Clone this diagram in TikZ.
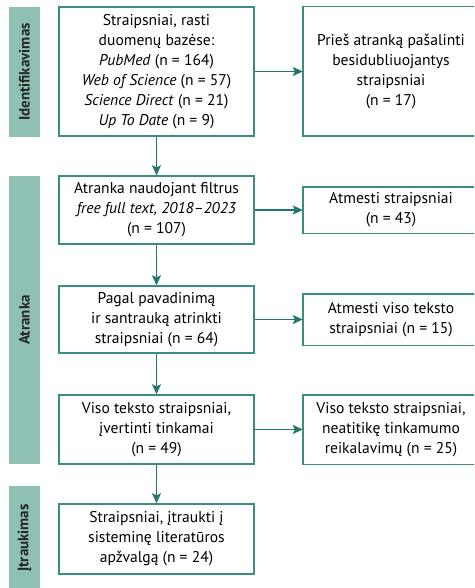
\documentclass[tikz,border=0pt]{standalone}
\usepackage{fontspec}
\setmainfont{PT Sans}
\usetikzlibrary{arrows.meta}
\definecolor{teal1}{HTML}{3A8E80}
\definecolor{teal2}{HTML}{23776A}
\definecolor{barc}{HTML}{8FC0B4}
\begin{document}
\begin{tikzpicture}[x=1pt,y=-1pt,
  txt/.style={align=center,inner sep=0pt,font=\fontsize{15.6}{20}\selectfont},
  box/.style={txt,draw=teal1,line width=1.4pt,fill=white},
  boxline/.style={draw=teal1,line width=1.4pt},
  bar/.style={fill=barc,draw=none},
  bartext/.style={rotate=90,font=\fontsize{15}{17}\selectfont\bfseries,text=black!85},
  arr/.style={draw=teal2,line width=1.4pt,-{Stealth[length=10pt,width=9pt,inset=2pt]}}]
\useasboundingbox (0,0) rectangle (474,588);
\clip (0,0) rectangle (474,588);
% bars
\fill[bar] (9,7) rectangle (40,137);
\fill[bar] (9,176) rectangle (40,464);
\fill[bar] (9,486) rectangle (40,590);
\node[bartext] (b1) at (24.5,72) {Identifikavimas};
\node[bartext] (b2) at (24.5,320) {Atranka};
\node[bartext] (b3) at (24.5,538) {Įtraukimas};
% left boxes
\node[box,minimum width=195pt,minimum height=129pt] (l1) at (156.5,71.5)
 {Straipsniai, rasti\\duomenų bazėse:\\\textit{PubMed} (n = 164)\\\textit{Web of Science} (n = 57)\\\textit{Science Direct} (n = 21)\\\textit{Up To Date} (n = 9)};
\node[box,minimum width=195pt,minimum height=68pt] (l2) at (156.5,210)
 {Atranka naudojant filtrus\\\textit{free full text, 2018–2023}\\(n = 107)};
\node[box,minimum width=195pt,minimum height=67pt] (l3) at (156.5,319.5)
 {Pagal pavadinimą\\ir santrauką atrinkti\\straipsniai (n = 64)};
\node[box,minimum width=195pt,minimum height=69pt] (l4) at (156.5,429.5)
 {Viso teksto straipsniai,\\įvertinti tinkamai\\(n = 49)};
\node[box,minimum width=195pt,minimum height=70pt] (l5) at (156.5,539)
 {Straipsniai, įtraukti į\\sisteminę literatūros\\apžvalgą (n = 24)};
% right boxes (open at the right edge of the picture)
\node[txt,minimum width=176pt,minimum height=129pt] (r1) at (391,71.5)
 {Prieš atranką pašalinti\\besidubliuojantys\\straipsniai\\(n = 17)};
\node[txt,minimum width=176pt,minimum height=46pt] (r2) at (391,210)
 {Atmesti straipsniai\\(n = 43)};
\node[txt,minimum width=176pt,minimum height=51pt] (r3) at (391,319.5)
 {Atmesti viso teksto\\straipsniai (n = 15)};
\node[txt,minimum width=176pt,minimum height=69pt] (r4) at (391,429.5)
 {Viso teksto straipsniai,\\neatitikę tinkamumo\\reikalavimų (n = 25)};
\foreach \r in {r1,r2,r3,r4}{
  \draw[boxline] ([xshift=20pt]\r.north east) -- (\r.north west) -- (\r.south west) -- ([xshift=20pt]\r.south east);
}
% arrows
\draw[arr] (l1) -- (r1);
\draw[arr] (l2) -- (r2);
\draw[arr] (l3) -- (r3);
\draw[arr] (l4) -- (r4);
\draw[arr] (l1) -- (l2);
\draw[arr] (l2) -- (l3);
\draw[arr] (l3) -- (l4);
\draw[arr] (l4) -- (l5);
\end{tikzpicture}
\end{document}
